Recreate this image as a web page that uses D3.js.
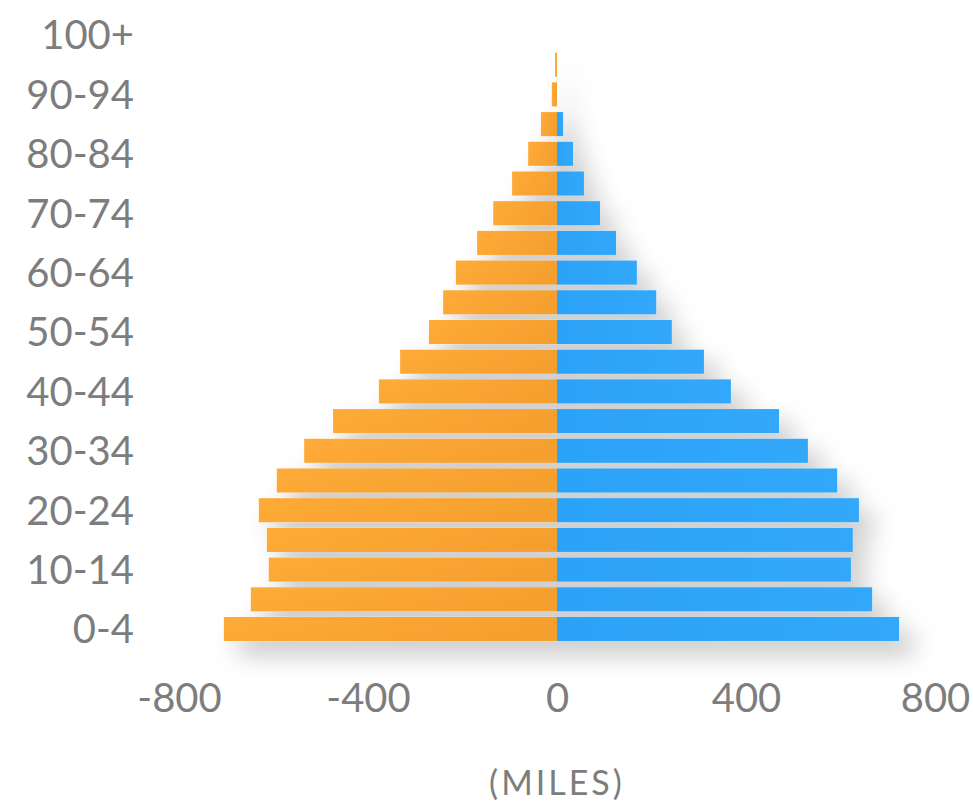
<!DOCTYPE html>
<html>
<head>
<meta charset="utf-8">
<script src="https://cdn.jsdelivr.net/npm/d3@7/dist/d3.min.js"></script>
<style>
  html, body { margin: 0; padding: 0; background: #fff; }
  svg { display: block; }
  .tick text { font-family: Lato, "Open Sans", sans-serif; font-weight: 400; fill: #7d7d7d; }
</style>
</head>
<body>
<svg id="chart" width="973" height="807"></svg>
<script>
const ageGroups = ["0-4","5-9","10-14","15-19","20-24","25-29","30-34","35-39","40-44","45-49",
  "50-54","55-59","60-64","65-69","70-74","75-79","80-84","85-89","90-94","95-99","100+"];
const leftValues = [705, 648, 610, 614, 631, 593, 535, 474, 377, 332,
  271, 241, 214, 169, 135, 95, 61, 34, 11, 4, 0];
const rightValues = [724, 667, 622, 626, 639, 593, 531, 470, 368, 311,
  243, 210, 169, 125, 91, 57, 34, 13, 0, 0, 0];
const xTicks = [-800, -400, 0, 400, 800];
const yTickLabels = ["0-4","10-14","20-24","30-34","40-44","50-54","60-64","70-74","80-84","90-94","100+"];
const axisTitle = "(MILES)";

const svg = d3.select("#chart");
const defs = svg.append("defs");

const gOr = defs.append("linearGradient").attr("id", "gradOrange")
  .attr("x1", "0").attr("y1", "0").attr("x2", "1").attr("y2", "0.3");
gOr.append("stop").attr("offset", "0").attr("stop-color", "#FFAB39");
gOr.append("stop").attr("offset", "1").attr("stop-color", "#F5A02E");

const gBl = defs.append("linearGradient").attr("id", "gradBlue")
  .attr("x1", "0").attr("y1", "0").attr("x2", "1").attr("y2", "0");
gBl.append("stop").attr("offset", "0").attr("stop-color", "#2CA2F7");
gBl.append("stop").attr("offset", "1").attr("stop-color", "#31A8FB");

const f = defs.append("filter").attr("id", "shadow")
  .attr("x", "-20%").attr("y", "-20%").attr("width", "150%").attr("height", "150%");
f.append("feDropShadow").attr("dx", 14).attr("dy", 14).attr("stdDeviation", 12)
  .attr("flood-color", "#000").attr("flood-opacity", 0.22);

const x = d3.scaleLinear().domain([-800, 800]).range([179, 935]);
const step = 29.7;
const y = d3.scaleBand()
  .domain(ageGroups.slice().reverse())
  .range([35 - step / 2, 35 - step / 2 + step * ageGroups.length])
  .paddingInner(0.19).paddingOuter(0.095);

const data = ageGroups.map((a, i) => ({ age: a, left: leftValues[i], right: rightValues[i] }));

const bars = svg.append("g").attr("filter", "url(#shadow)");
bars.selectAll("rect.left").data(data).join("rect")
  .attr("class", "left")
  .attr("x", d => x(-d.left))
  .attr("y", d => y(d.age))
  .attr("width", d => x(0) - x(-d.left))
  .attr("height", y.bandwidth())
  .attr("fill", "url(#gradOrange)");
bars.selectAll("rect.right").data(data.filter(d => d.right > 0)).join("rect")
  .attr("class", "right")
  .attr("x", x(0))
  .attr("y", d => y(d.age))
  .attr("width", d => x(d.right) - x(0))
  .attr("height", y.bandwidth())
  .attr("fill", "url(#gradBlue)");

// Y axis
const yAxis = d3.axisLeft(y).tickValues(yTickLabels).tickSize(0).tickPadding(0);
const yg = svg.append("g").attr("transform", "translate(134,0)").call(yAxis);
yg.select(".domain").remove();
yg.selectAll(".tick text").attr("font-size", 40).attr("dy", "0.36em").attr("x", 0);

// X axis
const xAxis = d3.axisBottom(x).tickValues(xTicks).tickFormat(d => String(d)).tickSize(0).tickPadding(0);
const xg = svg.append("g").attr("transform", "translate(0,712)").call(xAxis);
xg.select(".domain").remove();
xg.selectAll(".tick text").attr("font-size", 40).attr("dy", 0).attr("y", 0);

svg.append("text")
  .attr("x", x(0)).attr("y", 795)
  .attr("text-anchor", "middle")
  .attr("font-family", "Lato, 'Open Sans', sans-serif")
  .attr("font-weight", 400)
  .attr("font-size", 34)
  .attr("letter-spacing", 3)
  .attr("fill", "#7d7d7d")
  .text(axisTitle);
</script>
</body>
</html>
